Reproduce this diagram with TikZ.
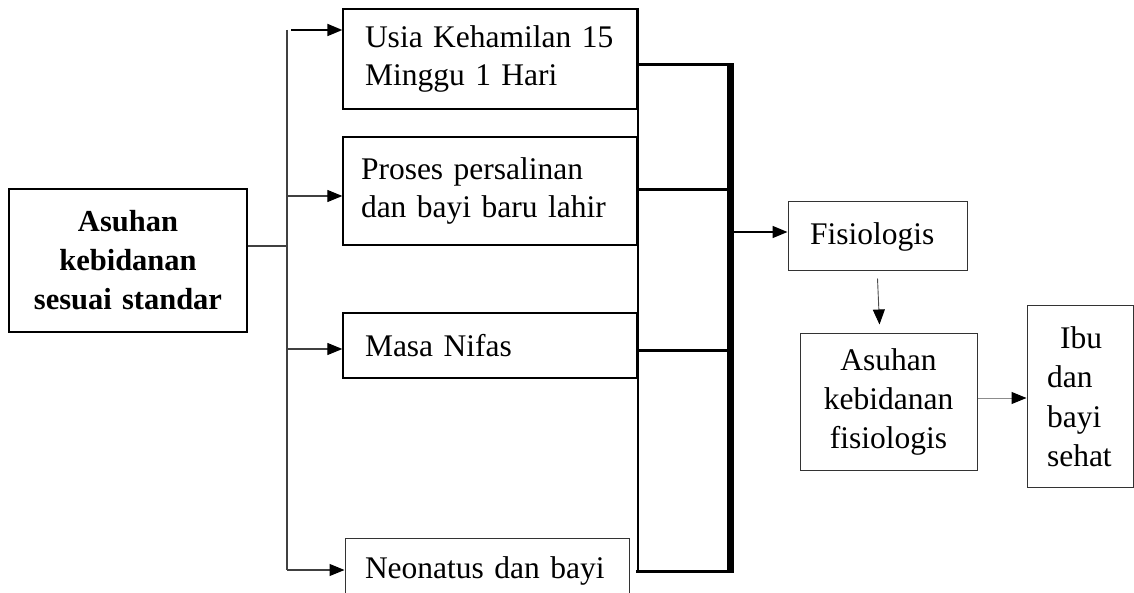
\documentclass[tikz,border=0pt]{standalone}
\usepackage{fontspec}
\setmainfont{Liberation Serif}
\usetikzlibrary{arrows.meta}
\begin{document}
\begin{tikzpicture}[x=1pt,y=-1pt,
  box/.style={draw, line width=1.3pt, inner sep=0pt, font=\fontsize{31.5}{38}\selectfont},
  thinline/.style={line width=1.1pt, draw=black!75},
  arr/.style={-{Triangle[length=15pt,width=12pt,color=black]}},
  thickbar/.style={line width=3pt},
  trunk/.style={line width=7pt}]
\useasboundingbox (0,0) rectangle (1134,593);
\clip (0,0) rectangle (1134,593);
% boxes
\node[box, minimum width=238pt, minimum height=143pt, text width=220pt, align=center,
      font=\fontsize{30.5}{39}\selectfont\bfseries] (lb) at (128,260.5) {Asuhan\\kebidanan\\sesuai standar};
\node[box, minimum width=294pt, minimum height=100pt, text width=250pt, align=left] (b1) at (490,59) {Usia Kehamilan 15\\Minggu 1 Hari};
\node[box, minimum width=294pt, minimum height=108pt, text width=258pt, align=left] (b2) at (490,191) {Proses persalinan\\dan bayi baru lahir};
\node[box, minimum width=294pt, minimum height=65pt, text width=250pt, align=left] (b3) at (490,345.5) {Masa Nifas};
\node[box, line width=1pt, draw=black!80, minimum width=284pt, minimum height=65pt, text width=244pt, align=left] (b4) at (487,570.5) {Neonatus dan bayi};
\node[box, line width=1pt, draw=black!80, minimum width=179pt, minimum height=69pt, text width=135pt, align=left] (fis) at (877.5,236.5) {Fisiologis};
\node[box, line width=1pt, draw=black!80, minimum width=177pt, minimum height=137pt, text width=160pt, align=center, font=\fontsize{31.5}{39}\selectfont] (asf) at (888.5,401.5) {Asuhan\\kebidanan\\fisiologis};
\node[box, line width=1pt, draw=black!80, minimum width=106pt, minimum height=181pt, text width=66pt, align=left, font=\fontsize{31.5}{39.5}\selectfont] (ibu) at (1080,396.5) {\hspace*{13pt}Ibu\\dan\\bayi\\sehat};
% left trunk
\coordinate (j) at (287,246);
\coordinate (ttop) at (287,30);
\coordinate (tbot) at (287,570);
\draw[thinline] (lb.east |- j) -- (j);
\draw[thinline] (ttop) -- (tbot);
\coordinate (a1) at (291,30);
\coordinate (a2) at (287,196);
\coordinate (a3) at (287,349);
\coordinate (a4) at (287,570);
\draw[arr, line width=1.8pt] (a1) -- (a1 -| b1.west);
\draw[arr, thinline] (a2) -- (a2 -| b2.west);
\draw[arr, thinline] (a3) -- (a3 -| b3.west);
\draw[arr, thinline] (a4) -- (a4 -| b4.west);
% right collector
\coordinate (rb) at (637,571);
\draw[line width=2pt] (b1.north east) -- (b1.north east |- rb);
\coordinate (bar) at (730,0);
\coordinate (h1) at (637,65);
\coordinate (h2) at (637,190);
\coordinate (h3) at (637,350);
\coordinate (h4) at (637,571);
\draw[thickbar] (h1) -- (h1 -| bar);
\draw[thickbar] (h2) -- (h2 -| bar);
\draw[thickbar] (h3) -- (h3 -| bar);
\draw[thickbar] ([xshift=-1pt]h4) -- (h4 -| bar);
\draw[trunk] ([yshift=1.5pt]h1 -| bar) -- ([yshift=-1.5pt]h4 -| bar);
% right flow
\coordinate (f0) at (733,232);
\draw[arr, line width=1.5pt] (f0) -- (f0 -| fis.west);
\draw[arr, line width=0.9pt, draw=black!70] ([yshift=-7pt]fis.south) -- ([xshift=2pt,yshift=8pt]fis.south |- asf.north);
\draw[arr, line width=1pt, draw=black!45] ([yshift=3.5pt]asf.east) -- ([yshift=3.5pt]asf.east -| ibu.west);
\end{tikzpicture}
\end{document}
